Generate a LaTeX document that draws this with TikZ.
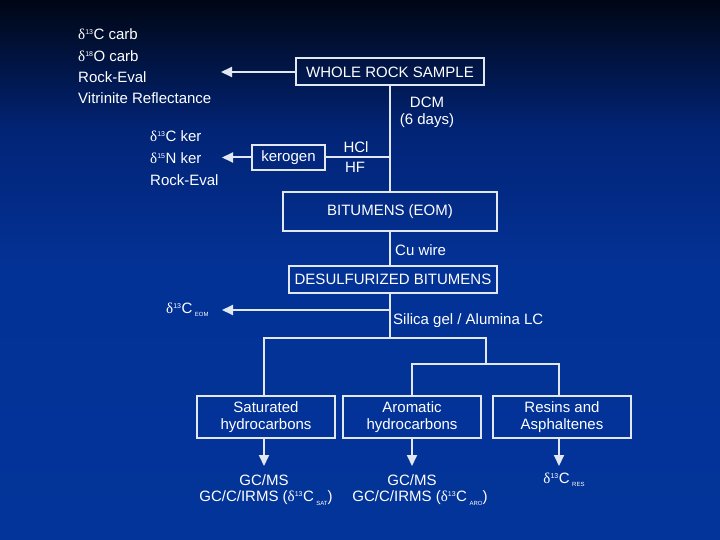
\documentclass[tikz,border=0pt]{standalone}
\usepackage{fontspec}
\setmainfont{Liberation Sans}
\newfontfamily\grk{Liberation Serif}
\usetikzlibrary{arrows.meta}
\definecolor{bgtop}{RGB}{0,6,20}
\definecolor{bgmid}{RGB}{2,36,118}
\definecolor{bglow}{RGB}{3,50,150}
\definecolor{bgbot}{RGB}{3,52,153}
\definecolor{ln}{RGB}{225,232,242}
\pgfdeclareverticalshading{slidebg}{100bp}{color(0bp)=(bgbot); color(25bp)=(bgbot); color(50bp)=(bglow); color(63bp)=(bgmid); color(75bp)=(bgtop); color(100bp)=(bgtop)}
\newcommand{\dl}{{\grk δ}}
\newcommand{\sups}[1]{\textsuperscript{\fontsize{7}{7}\selectfont #1}}
\newcommand{\subs}[1]{\,\raisebox{-0.45ex}{\fontsize{6}{6}\selectfont #1}}
\tikzset{
  box/.style={draw=ln, line width=2pt, text=white, inner sep=0pt, align=center, font=\fontsize{15}{17}\selectfont},
  lbl/.style={text=white, inner sep=0pt, font=\fontsize{15}{17}\selectfont},
  wire/.style={draw=ln, line width=2pt},
  arr/.style={wire, -{Triangle[length=11pt,width=10pt]}},
}
\begin{document}
\begin{tikzpicture}[x=1pt,y=-1pt]
\useasboundingbox (0,0) rectangle (720,540);
\shade[shading=slidebg] (0,0) rectangle (720,540);
% boxes
\node[box, minimum width=188pt, minimum height=27pt] (whole) at (390,72) {WHOLE ROCK SAMPLE};
\node[box, minimum width=73pt, minimum height=25pt] (ker) at (288.5,157.5) {kerogen};
\node[box, minimum width=214pt, minimum height=39pt] (bit) at (390,211.5) {BITUMENS (EOM)};
\node[box, minimum width=208pt, minimum height=27pt] (des) at (393,279.5) {DESULFURIZED BITUMENS};
\node[box, minimum width=138pt, minimum height=42pt] (sat) at (266,417) {Saturated\\hydrocarbons};
\node[box, minimum width=138pt, minimum height=42pt] (aro) at (412,417) {Aromatic\\hydrocarbons};
\node[box, minimum width=138pt, minimum height=42pt] (res) at (562,417) {Resins and\\Asphaltenes};
% coordinates
\coordinate (wl) at (221,72);
\coordinate (kl) at (222,157.5);
\coordinate (kj) at (390,157.5);
\coordinate (ej) at (390,310);
\coordinate (el) at (222,310);
\coordinate (b1) at (390,338);
\coordinate (bl) at (264,338);
\coordinate (br) at (486,338);
\coordinate (br2) at (486,364);
\coordinate (cl) at (412,364);
\coordinate (cr) at (559,364);
\coordinate (sa) at (264,466);
\coordinate (aa) at (412,466);
\coordinate (ra) at (559,466);
% left texts
\node[lbl, anchor=west] (t1) at (78,34) {\dl\sups{13}C carb};
\node[lbl, anchor=west] (t2) at (78,56) {\dl\sups{18}O carb};
\node[lbl, anchor=west] (t3) at (78,77) {Rock-Eval};
\node[lbl, anchor=west] (t4) at (78,98) {Vitrinite Reflectance};
\node[lbl, anchor=west] (k1) at (150,136) {\dl\sups{13}C ker};
\node[lbl, anchor=west] (k2) at (150,158) {\dl\sups{15}N ker};
\node[lbl, anchor=west] (k3) at (150,180) {Rock-Eval};
\node[lbl, anchor=west] (e1) at (166,310) {\dl\sups{13}C\subs{EOM}};
% edge labels
\node[lbl, align=center] (dcm) at (427,112) {DCM\\(6 days)};
\node[lbl] (hcl) at (356,147) {HCl};
\node[lbl] (hf) at (355,167) {HF};
\node[lbl, anchor=west] (cu) at (395,250) {Cu wire};
\node[lbl, anchor=west] (sil) at (393,321) {Silica gel / Alumina LC};
% bottom texts
\node[lbl] (g1) at (264,480) {GC/MS};
\node[lbl] (g2) at (266,498) {GC/C/IRMS (\dl\sups{13}C\subs{SAT})};
\node[lbl] (g3) at (412,480) {GC/MS};
\node[lbl] (g4) at (420,498) {GC/C/IRMS (\dl\sups{13}C\subs{ARO})};
\node[lbl] (r1) at (564,480) {\dl\sups{13}C\subs{RES}};
% connectors
\draw[arr] (whole.west) -- (wl);
\draw[wire] (whole.south -| kj) -- (bit.north -| kj);
\draw[wire] (ker.east) -- (kj);
\draw[arr] (ker.west) -- (kl);
\draw[wire] (bit.south -| kj) -- (des.north -| kj);
\draw[wire] (des.south -| kj) -- (b1);
\draw[arr] (ej) -- (el);
\draw[wire] (bl |- sat.north) -- (bl) -- (br) -- (br2);
\draw[wire] (cl |- aro.north) -- (cl) -- (cr) -- (cr |- res.north);
\draw[arr] (sat.south -| sa) -- (sa);
\draw[arr] (aro.south -| aa) -- (aa);
\draw[arr] (res.south -| ra) -- (ra);
\end{tikzpicture}
\end{document}
